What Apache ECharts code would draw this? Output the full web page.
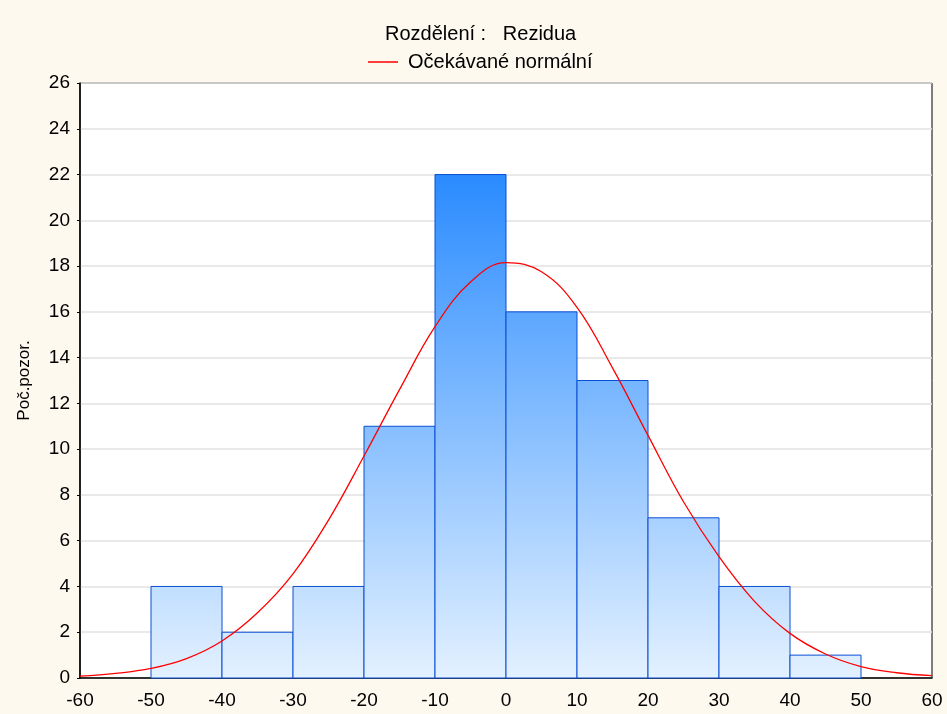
<!DOCTYPE html>
<html>
<head>
<meta charset="utf-8">
<script src="https://cdn.jsdelivr.net/npm/echarts@6/dist/echarts.min.js"></script>
<style>
html,body{margin:0;padding:0;background:#fdf9ef;}
#c{width:947px;height:714px;}
</style>
</head>
<body>
<div id="c"></div>
<script>
// Histogram bins (lower edge, upper edge) and counts
var binLow = [-50, -40, -30, -20, -10, 0, 10, 20, 30, 40];
var binHigh = [-40, -30, -20, -10, 0, 10, 20, 30, 40, 50];
var counts = [4, 2, 4, 11, 22, 16, 13, 7, 4, 1];

// Expected normal curve
var curveX = [-60, -55, -50, -45, -40, -35, -30, -25, -20, -15, -10, -5, 0, 5, 10, 15, 20, 25, 30, 35, 40, 45, 50, 55, 60];
var curveY = [0.08, 0.2, 0.42, 0.85, 1.62, 2.85, 4.55, 6.9, 9.7, 12.6, 15.35, 17.3, 18.15, 17.75, 16.2, 13.55, 10.6, 7.7, 5.3, 3.35, 1.95, 1.05, 0.5, 0.23, 0.1];

var xTicks = {min: -60, max: 60, interval: 10};
var yTicks = {min: 0, max: 26, interval: 2};

var titleText = 'Rozdělení :   Rezidua';
var legendName = 'Očekávané normální';
var yName = 'Poč.pozor.';

var histData = binLow.map(function (lo, i) { return [lo, binHigh[i], counts[i]]; });
var curveData = curveX.map(function (x, i) { return [x, curveY[i]]; });

var chart = echarts.init(document.getElementById('c'));
var font = 'Liberation Sans, Arial, sans-serif';

chart.setOption({
  backgroundColor: '#fdf9ef',
  animation: false,
  title: {
    text: titleText,
    left: 380,
    top: 19,
    textStyle: {fontFamily: font, fontSize: 20, fontWeight: 'normal', color: '#000'}
  },
  legend: {
    data: [{name: legendName, icon: 'rect'}],
    top: 47,
    left: 363,
    itemWidth: 30,
    itemHeight: 1.5,
    itemGap: 10,
    textStyle: {fontFamily: font, fontSize: 20, color: '#000', padding: [0, 0, 0, 5]}
  },
  grid: {
    left: 80, right: 15, top: 83, bottom: 36,
    show: true,
    backgroundColor: '#ffffff',
    borderColor: '#000',
    borderWidth: 1
  },
  xAxis: {
    type: 'value',
    min: xTicks.min, max: xTicks.max, interval: xTicks.interval,
    axisLine: {show: true, onZero: false, lineStyle: {color: '#000', width: 1.5}},
    axisTick: {show: false},
    splitLine: {show: false},
    axisLabel: {fontFamily: font, fontSize: 19, color: '#000', margin: 13}
  },
  yAxis: {
    type: 'value',
    min: yTicks.min, max: yTicks.max, interval: yTicks.interval,
    name: yName,
    nameLocation: 'middle',
    nameGap: 47,
    nameTextStyle: {fontFamily: font, fontSize: 17, color: '#000'},
    axisLine: {show: true, onZero: false, lineStyle: {color: '#000', width: 1.5}},
    axisTick: {show: true, length: 3, lineStyle: {color: '#000'}},
    splitLine: {show: true, lineStyle: {color: '#e2e2e2', width: 1.5}},
    axisLabel: {fontFamily: font, fontSize: 19, color: '#000', margin: 10}
  },
  series: [
    {
      type: 'custom',
      name: 'hist',
      data: histData,
      encode: {x: [0, 1], y: 2},
      z: 2,
      renderItem: function (params, api) {
        var p1 = api.coord([api.value(0), api.value(2)]);
        var p2 = api.coord([api.value(1), 0]);
        var gTop = api.coord([0, 22])[1];
        var gBot = api.coord([0, 0])[1];
        var grad = new echarts.graphic.LinearGradient(0, gTop, 0, gBot, [
          {offset: 0, color: '#2a8bff'},
          {offset: 1, color: '#e3f1ff'}
        ], true);
        return {
          type: 'rect',
          shape: {x: p1[0], y: p1[1], width: p2[0] - p1[0], height: p2[1] - p1[1]},
          style: {fill: grad, stroke: '#0a4fd4', lineWidth: 1}
        };
      }
    },
    {
      type: 'line',
      name: legendName,
      data: curveData,
      smooth: 0.4,
      showSymbol: false,
      symbol: 'none',
      z: 5,
      itemStyle: {color: '#ff0000'},
      lineStyle: {color: '#ff0000', width: 1.3}
    }
  ]
});
</script>
</body>
</html>
